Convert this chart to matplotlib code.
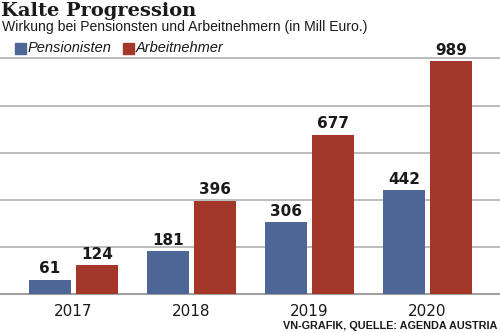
import matplotlib
matplotlib.use("Agg")
import matplotlib.pyplot as plt
import numpy as np

years = ["2017", "2018", "2019", "2020"]
pensionisten = [61, 181, 306, 442]
arbeitnehmer = [124, 396, 677, 989]
series_names = ["Pensionisten", "Arbeitnehmer"]
colors = ["#4f6797", "#a3372a"]

W, H = 500, 333
fig = plt.figure(figsize=(5, 3.33), dpi=100)
ax = fig.add_axes([0, 1 - 294 / H, 1, (294 - 58.5) / H])

x = np.arange(len(years))
bw = 42 / 118
gap = 5 / 118
for vals, off, c in [(pensionisten, -(bw + gap) / 2, colors[0]), (arbeitnehmer, (bw + gap) / 2, colors[1])]:
    bars = ax.bar(x + off, vals, width=bw, color=c, zorder=3)
    for b, v in zip(bars, vals):
        ax.text(b.get_x() + b.get_width() / 2, v + 14, str(v), ha="center", va="bottom",
                fontsize=11, fontweight="bold", color="#1a1a1a", family="DejaVu Sans")

ax.set_xlim(-73.5 / 118, (500 - 73.5) / 118)
ax.set_ylim(0, 1000)
ax.set_yticks([200, 400, 600, 800, 1000])
ax.yaxis.grid(True, color="#b0b0b0", linewidth=1.2, zorder=0)
for gl in ax.get_ygridlines():
    gl.set_clip_on(False)
ax.set_yticklabels([])
ax.tick_params(left=False, bottom=False, labelleft=False)
ax.set_xticks(x)
ax.set_xticklabels(years, fontsize=11, family="DejaVu Sans", color="#1a1a1a")
ax.tick_params(axis="x", pad=4)
for s in ["top", "left", "right"]:
    ax.spines[s].set_visible(False)
ax.spines["bottom"].set_color("#a0a0a0")
ax.spines["bottom"].set_linewidth(1.5)

fig.text(1 / W, 1 - 2 / H, "Kalte Progression", ha="left", va="top", fontsize=14,
         fontweight="heavy", family="DejaVu Serif", color="#1a1a1a")
fig.text(2 / W, 1 - 20 / H, "Wirkung bei Pensionsten und Arbeitnehmern (in Mill Euro.)", ha="left", va="top",
         fontsize=10.1, family=["Liberation Sans", "DejaVu Sans"], color="#1a1a1a")

# legend
for name, c, sx in zip(series_names, colors, [15, 123]):
    fig.patches.append(plt.Rectangle((sx / W, 1 - 54 / H), 11 / W, 11 / H, transform=fig.transFigure,
                                     color=c, figure=fig))
    fig.text((sx + 13) / W, 1 - 48 / H, name, ha="left", va="center", fontsize=10.5, style="italic",
             family=["Liberation Sans", "DejaVu Sans"], color="#1a1a1a")

fig.text(497 / W, 1 - 326 / H, "VN-GRAFIK, QUELLE: AGENDA AUSTRIA", ha="right", va="center",
         fontsize=7.8, family=["Liberation Sans", "DejaVu Sans"], fontweight="bold", color="#1a1a1a")

fig.savefig("out.png", dpi=100, facecolor="white")
